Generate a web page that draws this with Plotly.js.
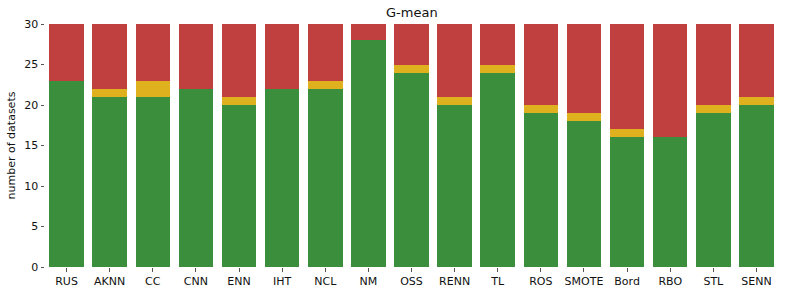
<!DOCTYPE html>
<html><head><meta charset="utf-8">
<script src="https://cdn.plot.ly/plotly-3.0.1.min.js"></script>
<style>html,body{margin:0;padding:0;background:#fff}#c{width:789px;height:293px}</style>
</head><body><div id="c"></div>
<script>
const categories = ["RUS","AKNN","CC","CNN","ENN","IHT","NCL","NM","OSS","RENN","TL","ROS","SMOTE","Bord","RBO","STL","SENN"];
const wins   = [23,21,21,22,20,22,22,28,24,20,24,19,18,16,16,19,20];
const ties   = [0,1,2,0,1,0,1,0,1,1,1,1,1,1,0,1,1];
const losses = [7,8,7,8,9,8,7,2,5,9,5,10,11,13,14,10,9];
const yTicks = [0,5,10,15,20,25,30];

const line = {color:'rgba(255,255,255,0)', width:0};
const mk = (y, color) => ({type:'bar', x:categories, y:y, marker:{color:color, line:line}, hoverinfo:'none', showlegend:false});
const data = [mk(wins,'#3b8f3c'), mk(ties,'#dfb11f'), mk(losses,'#c03f3f')];
const font = {family:'DejaVu Sans, sans-serif', size:11, color:'#111'};
const layout = {
  width:789, height:293, barmode:'stack', bargap:0.2,
  margin:{l:44.5, r:11.4, t:24, b:26},
  paper_bgcolor:'#fff', plot_bgcolor:'#fff', font:font,
  title:{text:'G-mean', x:0.522, xanchor:'center', y:0.958, yanchor:'middle', font:{family:'DejaVu Sans, sans-serif', size:13, color:'#111'}},
  xaxis:{range:[-0.5,16.5], showgrid:false, zeroline:false, showline:false, ticks:'outside', ticklen:3.5, tickwidth:1, tickcolor:'#555', tickfont:font},
  yaxis:{range:[0,30], tickvals:yTicks, showgrid:false, zeroline:false, showline:false, ticks:'outside', ticklen:3.5, tickwidth:1, tickcolor:'#555', tickfont:font,
    title:{text:'number of datasets', font:font, standoff:6}}
};
Plotly.newPlot('c', data, layout, {staticPlot:true, displayModeBar:false});
</script></body></html>
